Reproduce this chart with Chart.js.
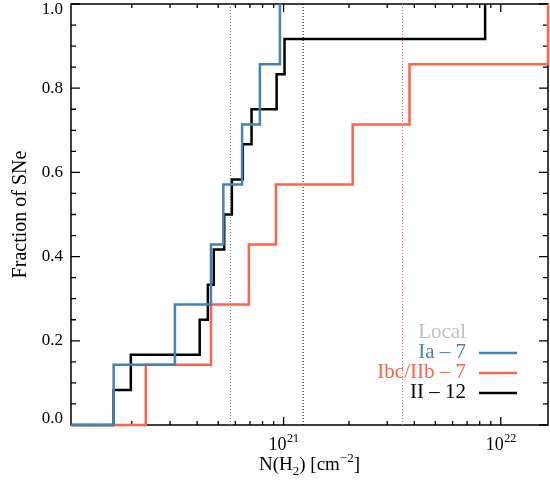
<!DOCTYPE html>
<html>
<head>
<meta charset="utf-8">
<script src="https://cdn.jsdelivr.net/npm/chart.js@4.4.1/dist/chart.umd.min.js"></script>
<style>
  html, body { margin: 0; padding: 0; background: #fff; }
  #wrap { width: 550px; height: 490px; }
</style>
</head>
<body>
<div id="wrap"><canvas id="c" width="550" height="490"></canvas></div>
<script>
// axis range, N(H2) [cm^-2]
const xMin = 1.05e20;
const xMax = 1.65e22;

// where each cumulative curve jumps, and the fraction it jumps to
const iaX = [1.65e20, 3.16e20, 4.63e20, 5.28e20, 6.44e20, 7.78e20, 9.62e20];
const iaY = [0.143, 0.286, 0.429, 0.571, 0.714, 0.857, 1.0];
const ibcX = [2.32e20, 4.63e20, 6.92e20, 9.22e20, 2.08e21, 3.80e21, 1.65e22];
const ibcY = [0.143, 0.286, 0.429, 0.571, 0.714, 0.857, 1.0];
const iiX = [1.65e20, 1.98e20, 4.11e20, 4.48e20, 4.77e20, 5.33e20, 5.78e20, 6.49e20, 7.12e20, 9.29e20, 1.01e21, 8.47e21];
const iiY = [0.083, 0.167, 0.25, 0.333, 0.417, 0.5, 0.583, 0.667, 0.75, 0.833, 0.917, 1.0];

// medians (dotted lines)
const iaMed = 5.69e20;
const ibcMed = 3.53e21;
const iiMed = 1.23e21;

const yTicks = [0.0, 0.2, 0.4, 0.6, 0.8, 1.0];
const xTickExp = [21, 22];

const legendTitle = 'Local';
const labels = ['Ia \u2013 7', 'Ibc/IIb \u2013 7', 'II \u2013 12'];

const BLUE = '#4682b4';
const RED = '#ff6347';
const BLACK = '#000000';
const FONT = '"Liberation Serif", "DejaVu Serif", serif';

function stepPoints(xs, ys) {
    const pts = [{ x: xMin, y: 0 }];
    xs.forEach((x, i) => pts.push({ x: x, y: ys[i] }));
    return pts;
}

function cdf(label, xs, ys, color) {
    return {
        label: label,
        data: stepPoints(xs, ys),
        stepped: 'before',
        borderColor: color,
        borderWidth: 2.5,
        pointRadius: 0,
        fill: false,
        clip: 2
    };
}

function median(x, color) {
    return {
        label: '',
        data: [{ x: x, y: 0 }, { x: x, y: 1 }],
        borderColor: color,
        borderWidth: 1,
        borderDash: [1, 2],
        pointRadius: 0,
        fill: false
    };
}

// frame and inward ticks, under the curves
const framePlugin = {
    id: 'frame',
    beforeDatasetsDraw(chart) {
        const { ctx, chartArea: a } = chart;
        const xs = chart.scales.x, ys = chart.scales.y;
        ctx.save();
        ctx.strokeStyle = '#000';
        ctx.lineWidth = 1.5;
        ctx.strokeRect(a.left, a.top, a.right - a.left, a.bottom - a.top);
        ctx.lineWidth = 1.3;
        ctx.beginPath();
        for (let k = 0; k <= 20; k++) {
            const y = ys.getPixelForValue(k * 0.05);
            const len = k % 4 === 0 ? 9 : 5;
            ctx.moveTo(a.left, y); ctx.lineTo(a.left + len, y);
            ctx.moveTo(a.right, y); ctx.lineTo(a.right - len, y);
        }
        for (let d = 20; d <= 22; d++) {
            for (let m = 1; m <= 9; m++) {
                const v = m * Math.pow(10, d);
                if (v < xMin || v > xMax) continue;
                const x = xs.getPixelForValue(v);
                const len = m === 1 ? 8 : 4;
                ctx.moveTo(x, a.bottom); ctx.lineTo(x, a.bottom - len);
                ctx.moveTo(x, a.top); ctx.lineTo(x, a.top + len);
            }
        }
        ctx.stroke();
        ctx.restore();
    },
    afterDraw(chart) {
        const { ctx, chartArea: a } = chart;
        const xs = chart.scales.x, ys = chart.scales.y;
        ctx.save();
        ctx.fillStyle = '#000';

        // y tick labels
        ctx.font = '17px ' + FONT;
        ctx.textAlign = 'right';
        ctx.textBaseline = 'middle';
        yTicks.forEach(v => {
            let y = ys.getPixelForValue(v);
            y = Math.min(Math.max(y, a.top + 6), a.bottom - 6);
            ctx.fillText(v.toFixed(1), a.left - 8, y);
        });

        // x tick labels 10^n
        ctx.textBaseline = 'alphabetic';
        ctx.textAlign = 'left';
        xTickExp.forEach(e => {
            const x = xs.getPixelForValue(Math.pow(10, e));
            ctx.font = '18px ' + FONT;
            const w1 = ctx.measureText('10').width;
            ctx.font = '12px ' + FONT;
            const w2 = ctx.measureText(String(e)).width;
            const x0 = x - (w1 + w2) / 2;
            ctx.font = '18px ' + FONT;
            ctx.fillText('10', x0, a.bottom + 25);
            ctx.font = '12px ' + FONT;
            ctx.fillText(String(e), x0 + w1 + 0.5, a.bottom + 17);
        });

        // x axis title N(H2) [cm^-2]
        const parts = [
            ['N(H', 19, 0], ['2', 13, 5], [') [cm', 19, 0], ['\u22122', 13, -8], [']', 19, 0]
        ];
        let total = 0;
        parts.forEach(p => { ctx.font = p[1] + 'px ' + FONT; total += ctx.measureText(p[0]).width; });
        let cx = (a.left + a.right) / 2 - total / 2;
        parts.forEach(p => {
            ctx.font = p[1] + 'px ' + FONT;
            ctx.fillText(p[0], cx, a.bottom + 45 + p[2]);
            cx += ctx.measureText(p[0]).width;
        });

        // y axis title
        ctx.save();
        ctx.translate(21, (a.top + a.bottom) / 2);
        ctx.rotate(-Math.PI / 2);
        ctx.font = '20px ' + FONT;
        ctx.textAlign = 'center';
        ctx.textBaseline = 'middle';
        ctx.fillText('Fraction of SNe', 0, 0);
        ctx.restore();

        // legend
        ctx.font = '21px ' + FONT;
        ctx.textAlign = 'right';
        ctx.textBaseline = 'middle';
        const lx = 466, ly = 332;
        ctx.fillStyle = '#c0c0c0';
        ctx.fillText(legendTitle, lx, ly);
        const cols = [BLUE, RED, BLACK];
        labels.forEach((t, i) => {
            const y = ly + 20 * (i + 1);
            ctx.fillStyle = cols[i];
            ctx.fillText(t, lx, y);
            ctx.strokeStyle = cols[i];
            ctx.lineWidth = 2.5;
            ctx.beginPath();
            ctx.moveTo(479, y + 1);
            ctx.lineTo(517, y + 1);
            ctx.stroke();
        });
        ctx.restore();
    }
};

new Chart(document.getElementById('c'), {
    type: 'line',
    data: {
        datasets: [
            cdf(labels[0], iaX, iaY, BLUE),
            cdf(labels[1], ibcX, ibcY, RED),
            cdf(labels[2], iiX, iiY, BLACK),
            median(iaMed, BLUE),
            median(ibcMed, RED),
            median(iiMed, BLACK)
        ]
    },
    options: {
        responsive: false,
        animation: false,
        events: [],
        layout: { padding: { left: 0, right: 2, top: 4, bottom: 0 } },
        plugins: { legend: { display: false }, tooltip: { enabled: false } },
        scales: {
            x: {
                type: 'logarithmic',
                min: xMin,
                max: xMax,
                ticks: { display: false },
                grid: { display: false },
                border: { display: false },
                afterFit(scale) { scale.height = 65; }
            },
            y: {
                min: 0,
                max: 1,
                ticks: { display: false },
                grid: { display: false },
                border: { display: false },
                afterFit(scale) { scale.width = 71; }
            }
        }
    },
    plugins: [framePlugin]
});
</script>
</body>
</html>
